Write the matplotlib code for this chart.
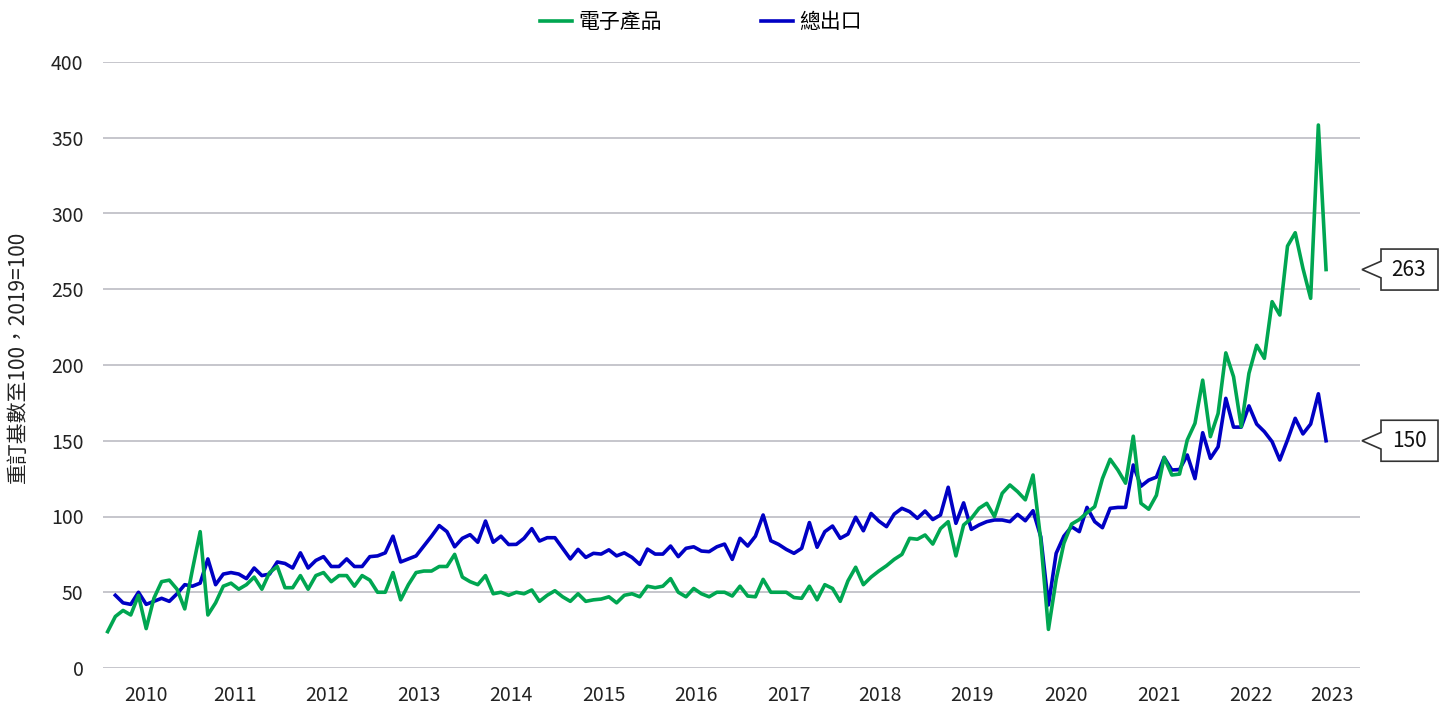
import numpy as np
import matplotlib.pyplot as plt
from matplotlib.patches import Polygon
from matplotlib.transforms import blended_transform_factory

plt.rcParams['font.family'] = ['Noto Sans CJK TC', 'DejaVu Sans']
plt.rcParams['font.size'] = 14

# 每月數據 (2009年8月起)
electronics = [
    24, 34, 38, 35, 48, 26, 46, 57, 58, 52, 39, 65, 90, 35, 43, 54, 56, 52, 55, 60,
    52, 63, 67, 53, 53, 61, 52, 61, 63, 57, 61, 61, 54, 61, 58, 50, 50, 63, 45, 55,
    63, 64, 64, 67, 67, 75, 60, 57, 55, 61, 49, 50, 48, 50, 49, 51.5, 44, 48, 51, 47,
    44, 49, 44, 45, 45.5, 47, 43, 48, 49, 47, 54, 53, 54, 59, 50, 47, 52.5, 49, 47,
    50, 50, 47.5, 54, 47.5, 47, 58.5, 50, 50, 50, 46.5, 46, 54, 45, 55, 52.5, 44, 57.5,
    66.5, 55, 60, 64, 67.5, 71.7, 75, 85.6, 85, 87.8, 81.8, 92, 96.6, 74, 94.4, 98.8, 105.4,
    108.7, 100, 115.3, 120.8, 116.4, 111, 127.4, 84.5, 25.5, 58.5, 82.3, 95, 98, 102.5, 106.5,
    125, 137.8, 130.7, 122, 153, 108.7, 104.8, 114, 139, 127.4, 128, 150.5, 161.5, 190, 152.7,
    168, 208, 192.3, 159.3, 194.5, 213, 204.4, 241.8, 233, 278.5, 287.3, 263.8, 244, 358.4, 263,
]
total_exports = [
    np.nan, 48, 43, 42, 50, 42, 44, 46, 44, 49, 55, 54, 56, 72, 55, 62, 63, 62, 59, 66,
    61, 62, 70, 69, 66, 76, 66, 71, 73.5, 67, 67, 72, 67, 67, 73.5, 74, 76, 87, 70, 72,
    74, 80.5, 87, 94, 90, 80, 85.6, 88, 83, 97, 83, 87, 81.5, 81.6, 85.6, 92, 83.8, 86, 86,
    79, 72, 78.3, 73, 75.7, 75.2, 78, 74, 76, 73, 68.4, 78.5, 75.2, 75.2, 80.5, 73.5, 79, 80,
    77.2, 76.8, 80, 81.8, 71.7, 85.6, 80.5, 87, 101, 84, 81.6, 78.3, 75.7, 79, 96, 79.7,
    90, 93.7, 85.6, 88.4, 99.5, 90.6, 102, 97, 93.3, 101.6, 105.4, 103.2, 98.8, 103.6, 98,
    101, 119.3, 95.5, 109, 91.5, 94.4, 96.6, 97.7, 97.7, 96.6, 101.4, 97.2, 103.8, 86.7,
    41.6, 75.7, 87, 93.3, 90, 106, 96.6, 92.6, 105.4, 106, 106, 134, 120, 124, 126, 139,
    130.7, 131, 140.6, 125, 155.3, 138.4, 146, 178, 159, 159, 173, 161, 156, 149.4, 137.3,
    150.5, 164.8, 154.5, 161, 181, 150,
]
year_labels = ['2010', '2011', '2012', '2013', '2014', '2015', '2016',
               '2017', '2018', '2019', '2020', '2021', '2022', '2023']
year_pos = [5.0, 16.5, 28.5, 40.4, 52.3, 64.4, 76.3, 88.3, 100.2, 112.1,
            124.3, 136.3, 148.3, 158.7]

green = '#00a651'
blue = '#0000c4'

months = np.arange(len(electronics))

fig = plt.figure(figsize=(14.39, 7.06), dpi=100)
ax = fig.add_axes([103 / 1439, 1 - 668 / 706, (1360 - 103) / 1439, (668 - 62) / 706])

ax.plot(months, total_exports, color=blue, lw=2.6, label='總出口', zorder=3)
ax.plot(months, electronics, color=green, lw=2.6, label='電子產品', zorder=4)

ax.set_xlim(-0.6, 162.4)
ax.set_ylim(0, 400)
ax.set_yticks(range(0, 401, 50))
ax.set_xticks(year_pos, year_labels)
ax.grid(axis='y', color='#c6c6cc', lw=1.4)
ax.set_axisbelow(True)
for s in ax.spines.values():
    s.set_visible(False)
ax.tick_params(axis='y', length=0, pad=14, labelsize=14, labelcolor='#222222')
ax.tick_params(axis='x', length=0, pad=12, labelsize=14, labelcolor='#222222')

fig.text(18 / 1439, 1 - 357 / 706, '重訂基數至100，2019=100', rotation=90,
         ha='center', va='center', fontsize=15, color='#222222')

handles, labels = ax.get_legend_handles_labels()
fig.legend(handles[::-1], labels[::-1], loc='center', ncol=2,
           bbox_to_anchor=(701 / 1439, 1 - 22 / 706), frameon=False,
           fontsize=15, handlelength=1.5, handletextpad=0.3, columnspacing=4.8)

# 右邊的數值標註
tr = blended_transform_factory(fig.transFigure, ax.transData)
u = 400 / (668 - 62)
xs = np.array([1381, 1438, 1438, 1381, 1381, 1362, 1381]) / 1439
dys = np.array([20.5, 20.5, -20.5, -20.5, -8.3, 0, 8.3]) * u
for series in (electronics, total_exports):
    val = series[-1]
    poly = Polygon(np.column_stack([xs, val + dys]), closed=True, facecolor='white',
                   edgecolor='#333333', lw=1.2, transform=tr, clip_on=False)
    ax.add_patch(poly)
    ax.text(1409 / 1439, val, f'{val:.0f}', transform=tr, ha='center', va='center',
            fontsize=15, color='#111111')

fig.savefig('out.png', dpi=100)
